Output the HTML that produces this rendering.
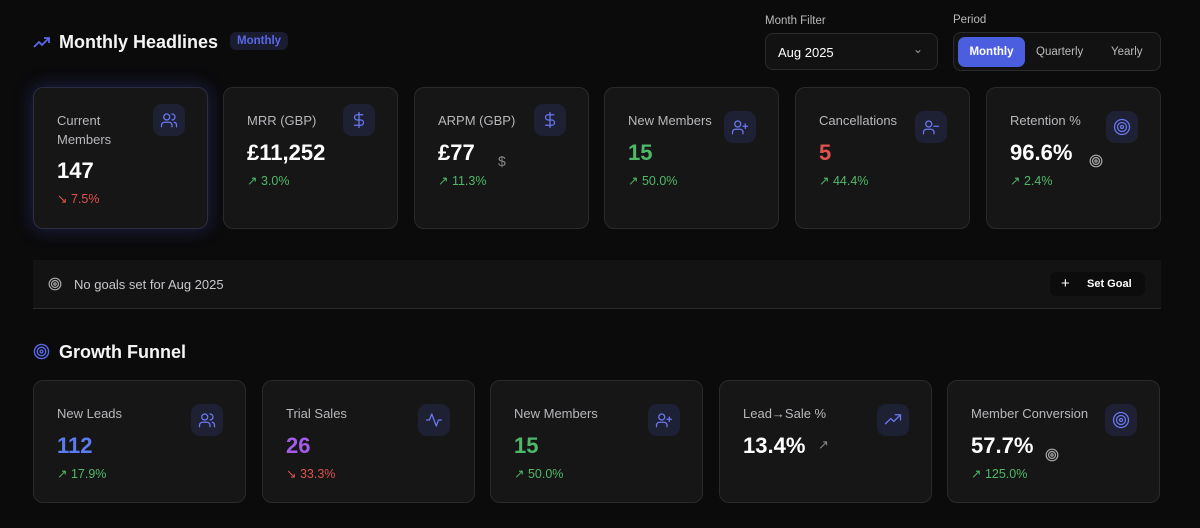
<!DOCTYPE html>
<html><head><meta charset="utf-8">
<style>
*{box-sizing:border-box;margin:0;padding:0}
body{width:1200px;height:528px;background:#0b0b0c;font-family:"Liberation Sans",sans-serif;color:#fff;position:relative;overflow:hidden}
.abs{position:absolute}
.h{font-size:18px;font-weight:700;color:#f4f4f5}
.card{position:absolute;background:#161617;border:1px solid #2a2a2d;border-radius:10px}
.lbl{position:absolute;left:23px;top:23px;font-size:13px;color:#b8b8bc;line-height:19px}
.val{position:absolute;left:23px;font-size:22px;font-weight:700}
.chg{position:absolute;left:23px;font-size:12.5px}
.up{color:#4fb868}.dn{color:#e0514f}
.ic{position:absolute;width:32px;height:32px;border-radius:9px;background:#1e2033;display:flex;align-items:center;justify-content:center}
.ic svg{width:18px;height:18px;stroke:#6a78f0;fill:none;stroke-width:1.7;stroke-linecap:round;stroke-linejoin:round}
.small{font-size:11.5px;color:#bbb}
</style></head><body>
<svg class="abs" style="left:33px;top:36px" width="18" height="14" viewBox="0 0 18 14"><path d="M1 11 L6 6 L9 9 L16 2 M11 2 H16 V7" stroke="#5a68e8" stroke-width="1.8" fill="none"/></svg>
<div class="abs h" style="left:59px;top:32px">Monthly Headlines</div>
<div class="abs" style="left:230px;top:32px;padding:3px 7px;border-radius:6px;background:#1a1c30;color:#5a68e8;font-size:11.5px;font-weight:700">Monthly</div>

<div class="abs small" style="left:765px;top:15px">Month Filter</div>
<div class="abs" style="left:765px;top:33px;width:173px;height:37px;border:1px solid #2a2a2d;border-radius:8px;background:#121213">
<span class="abs" style="left:12px;top:11px;font-size:13px">Aug 2025</span>
<span class="abs" style="right:14px;top:8px;font-size:12px;color:#999">⌄</span></div>
<div class="abs small" style="left:953px;top:14px">Period</div>
<div class="abs" style="left:953px;top:32px;width:208px;height:39px;border:1px solid #2a2a2d;border-radius:8px;background:#121213">
<div class="abs" style="left:4px;top:4px;width:67px;height:30px;background:#4c5ee0;border-radius:7px;font-size:11.5px;font-weight:700;text-align:center;line-height:30px">Monthly</div>
<div class="abs" style="left:82px;top:13px;font-size:11.5px;color:#bbb">Quarterly</div>
<div class="abs" style="left:157px;top:13px;font-size:11.5px;color:#bbb">Yearly</div>
</div>

<div class="card" style="left:33px;top:87px;width:175px;height:142px;box-shadow:0 0 18px rgba(70,80,200,0.35);border-color:#2c2d40">
<div class="lbl">Current<br>Members</div><div class="val" style="top:70px">147</div><div class="chg dn" style="top:103px">↘ 7.5%</div>
<div class="ic" style="left:119px;top:16px"><svg viewBox="0 0 24 24"><circle cx="9" cy="8" r="4"/><path d="M2 21v-2a4 4 0 014-4h6a4 4 0 014 4v2M16 4a4 4 0 010 8M22 21v-2a4 4 0 00-3-4"/></svg></div></div>

<div class="card" style="left:223px;top:87px;width:175px;height:142px">
<div class="lbl">MRR (GBP)</div><div class="val" style="top:52px">£11,252</div><div class="chg up" style="top:85px">↗ 3.0%</div>
<div class="ic" style="left:119px;top:16px"><svg viewBox="0 0 24 24"><path d="M12 2v20M17 5H9.5a3.5 3.5 0 000 7h5a3.5 3.5 0 010 7H6"/></svg></div></div>

<div class="card" style="left:414px;top:87px;width:175px;height:142px">
<div class="lbl">ARPM (GBP)</div><div class="val" style="top:52px">£77</div><span class="abs" style="left:83px;top:65px;color:#888;font-size:14px">$</span><div class="chg up" style="top:85px">↗ 11.3%</div>
<div class="ic" style="left:119px;top:16px"><svg viewBox="0 0 24 24"><path d="M12 2v20M17 5H9.5a3.5 3.5 0 000 7h5a3.5 3.5 0 010 7H6"/></svg></div></div>

<div class="card" style="left:604px;top:87px;width:175px;height:142px">
<div class="lbl">New Members</div><div class="val up" style="top:52px">15</div><div class="chg up" style="top:85px">↗ 50.0%</div>
<div class="ic" style="left:119px;top:23px"><svg viewBox="0 0 24 24"><circle cx="9" cy="8" r="4"/><path d="M2 21v-2a4 4 0 014-4h6a4 4 0 014 4v2M19 8v6M16 11h6"/></svg></div></div>

<div class="card" style="left:795px;top:87px;width:175px;height:142px">
<div class="lbl">Cancellations</div><div class="val dn" style="top:52px">5</div><div class="chg up" style="top:85px">↗ 44.4%</div>
<div class="ic" style="left:119px;top:23px"><svg viewBox="0 0 24 24"><circle cx="9" cy="8" r="4"/><path d="M2 21v-2a4 4 0 014-4h6a4 4 0 014 4v2M16 11h6"/></svg></div></div>

<div class="card" style="left:986px;top:87px;width:175px;height:142px">
<div class="lbl">Retention %</div><div class="val" style="top:52px">96.6%</div>
<svg class="abs" style="left:102px;top:66px" width="14" height="14" viewBox="0 0 24 24"><g stroke="#aaa" stroke-width="2" fill="none"><circle cx="12" cy="12" r="10"/><circle cx="12" cy="12" r="6"/><circle cx="12" cy="12" r="2"/></g></svg>
<div class="chg up" style="top:85px">↗ 2.4%</div>
<div class="ic" style="left:119px;top:23px"><svg viewBox="0 0 24 24"><circle cx="12" cy="12" r="10"/><circle cx="12" cy="12" r="6"/><circle cx="12" cy="12" r="2"/></svg></div></div>

<div class="abs" style="left:33px;top:260px;width:1128px;height:49px;background:#131314;border-bottom:1px solid #2a2a2d">
<svg class="abs" style="left:15px;top:17px" width="14" height="14" viewBox="0 0 24 24"><g stroke="#aaa" stroke-width="2" fill="none"><circle cx="12" cy="12" r="10"/><circle cx="12" cy="12" r="6"/><circle cx="12" cy="12" r="2"/></g></svg>
<span class="abs" style="left:41px;top:17px;font-size:13px;color:#c8c8cc">No goals set for Aug 2025</span>
<div class="abs" style="left:1017px;top:12px;width:95px;height:24px;background:#0c0c0d;border-radius:6px;font-size:11px;font-weight:700;line-height:24px"><span style="position:absolute;left:11px;font-size:15px;font-weight:400">+</span><span style="position:absolute;left:37px">Set Goal</span></div>
</div>

<svg class="abs" style="left:33px;top:343px" width="17" height="17" viewBox="0 0 24 24"><g stroke="#5a68e8" stroke-width="2" fill="none"><circle cx="12" cy="12" r="10"/><circle cx="12" cy="12" r="6"/><circle cx="12" cy="12" r="2"/></g></svg>
<div class="abs h" style="left:59px;top:342px">Growth Funnel</div>

<div class="card" style="left:33px;top:380px;width:213px;height:123px">
<div class="lbl">New Leads</div><div class="val" style="top:52px;color:#5b7cf0">112</div><div class="chg up" style="top:85px">↗ 17.9%</div>
<div class="ic" style="left:157px;top:23px"><svg viewBox="0 0 24 24"><circle cx="9" cy="8" r="4"/><path d="M2 21v-2a4 4 0 014-4h6a4 4 0 014 4v2M16 4a4 4 0 010 8M22 21v-2a4 4 0 00-3-4"/></svg></div></div>

<div class="card" style="left:262px;top:380px;width:213px;height:123px">
<div class="lbl">Trial Sales</div><div class="val" style="top:52px;color:#a35ce8">26</div><div class="chg dn" style="top:85px">↘ 33.3%</div>
<div class="ic" style="left:155px;top:23px"><svg viewBox="0 0 24 24"><path d="M22 12h-4l-3 8L9 4l-3 8H2"/></svg></div></div>

<div class="card" style="left:490px;top:380px;width:213px;height:123px">
<div class="lbl">New Members</div><div class="val up" style="top:52px">15</div><div class="chg up" style="top:85px">↗ 50.0%</div>
<div class="ic" style="left:157px;top:23px"><svg viewBox="0 0 24 24"><circle cx="9" cy="8" r="4"/><path d="M2 21v-2a4 4 0 014-4h6a4 4 0 014 4v2M19 8v6M16 11h6"/></svg></div></div>

<div class="card" style="left:719px;top:380px;width:213px;height:123px">
<div class="lbl">Lead→Sale %</div><div class="val" style="top:52px">13.4%</div><span class="abs" style="left:98px;top:56px;color:#888;font-size:13px">↗</span>
<div class="ic" style="left:157px;top:23px"><svg viewBox="0 0 24 24"><path d="M2 17l7-7 4 4 9-9M15 5h7v7"/></svg></div></div>

<div class="card" style="left:947px;top:380px;width:213px;height:123px">
<div class="lbl">Member Conversion</div><div class="val" style="top:52px">57.7%</div>
<svg class="abs" style="left:97px;top:67px" width="14" height="14" viewBox="0 0 24 24"><g stroke="#aaa" stroke-width="2" fill="none"><circle cx="12" cy="12" r="10"/><circle cx="12" cy="12" r="6"/><circle cx="12" cy="12" r="2"/></g></svg>
<div class="chg up" style="top:85px">↗ 125.0%</div>
<div class="ic" style="left:157px;top:23px"><svg viewBox="0 0 24 24"><circle cx="12" cy="12" r="10"/><circle cx="12" cy="12" r="6"/><circle cx="12" cy="12" r="2"/></svg></div></div>
</body></html>
